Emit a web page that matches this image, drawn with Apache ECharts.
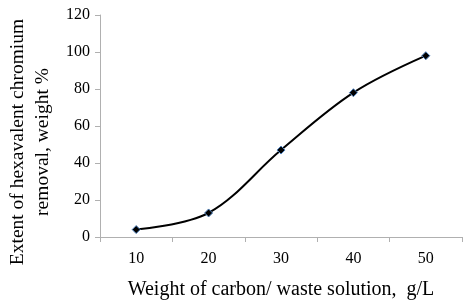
<!DOCTYPE html>
<html><head><meta charset="utf-8">
<script src="https://cdn.jsdelivr.net/npm/echarts@6/dist/echarts.min.js"></script>
<style>html,body{margin:0;padding:0;background:#fff}#c{width:469px;height:300px}</style>
</head><body><div id="c"></div>
<script>
const categories = ['10', '20', '30', '40', '50'];
const removal = [4, 13, 47, 78, 98];
const yTicks = [0, 20, 40, 60, 80, 100, 120];

const font = "'Liberation Serif', 'Times New Roman', serif";
const chart = echarts.init(document.getElementById('c'));
chart.setOption({
  animation: false,
  grid: { left: 100, right: 7, top: 15, bottom: 63, containLabel: false, outerBoundsMode: 'none' },
  xAxis: {
    type: 'category',
    data: categories,
    boundaryGap: true,
    name: 'Weight of carbon/ waste solution,  g/L',
    nameLocation: 'middle',
    nameGap: 43,
    nameTextStyle: { fontFamily: font, fontSize: 20, color: '#000' },
    axisLine: { lineStyle: { color: '#b0b0b0', width: 1 } },
    axisTick: { show: true, alignWithLabel: false, length: 5, lineStyle: { color: '#b0b0b0' } },
    axisLabel: { fontFamily: font, fontSize: 16, color: '#000', margin: 14 },
    splitLine: { show: false }
  },
  yAxis: {
    type: 'value',
    min: yTicks[0],
    max: yTicks[yTicks.length - 1],
    interval: 20,
    name: 'Extent of hexavalent chromium\nremoval, weight %',
    nameLocation: 'middle',
    nameGap: 39,
    nameTextStyle: { fontFamily: font, fontSize: 19.5, color: '#000', lineHeight: 25, padding: [0, 0, 0, -32] },
    axisLine: { show: true, lineStyle: { color: '#b0b0b0', width: 1 } },
    axisTick: { show: true, length: 5, lineStyle: { color: '#b0b0b0' } },
    axisLabel: { fontFamily: font, fontSize: 16, color: '#000', margin: 10 },
    splitLine: { show: false }
  },
  series: [{
    type: 'line',
    data: removal,
    smooth: 0.35,
    symbol: 'diamond',
    symbolSize: 8,
    lineStyle: { color: '#000', width: 2 },
    itemStyle: { color: '#000', borderColor: '#4f81bd', borderWidth: 1 }
  }]
});
</script></body></html>
